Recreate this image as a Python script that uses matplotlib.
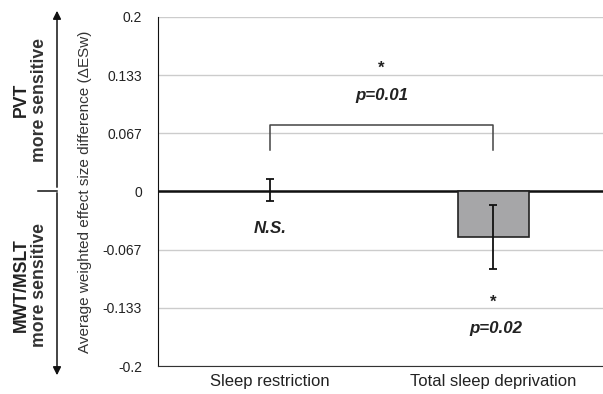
import matplotlib
matplotlib.use("Agg")
import matplotlib.pyplot as plt
from matplotlib.patches import FancyArrowPatch

plt.rcParams["font.family"] = ["Liberation Sans", "DejaVu Sans"]

categories = ["Sleep restriction", "Total sleep deprivation"]
values = [0.0017, -0.052]
errors = [0.013, 0.037]
bar_colors = ["#a6a6a8", "#a6a6a8"]
yticks = [-0.2, -0.133, -0.067, 0, 0.067, 0.133, 0.2]
ytick_labels = ["-0.2", "-0.133", "-0.067", "0", "0.067", "0.133", "0.2"]

fig = plt.figure(figsize=(6.03, 3.94), dpi=100)
ax = fig.add_axes([0.262, 0.071, 0.738, 0.886])

x = list(range(len(categories)))
# first bar is essentially zero, so only the second shows as a filled bar
ax.bar(x[1], values[1], width=0.32, color=bar_colors[1], edgecolor="#222222", linewidth=1.2, zorder=3)
ax.errorbar(x, values, yerr=errors, fmt="none", ecolor="#111111", elinewidth=1.3,
            capsize=3, capthick=1.3, zorder=4)

ax.axhline(0, color="#111111", linewidth=1.8, zorder=2)
ax.set_xlim(-0.5, 1.49)
ax.set_ylim(-0.2, 0.2)
ax.set_yticks(yticks)
ax.set_yticklabels(ytick_labels, fontsize=10, color="#222222")
ax.yaxis.grid(True, color="#cccccc", linewidth=1)
ax.set_axisbelow(True)
ax.tick_params(axis="y", length=0, pad=11.5)
ax.set_xticks(x)
ax.set_xticklabels(categories, fontsize=12, color="#222222")
ax.tick_params(axis="x", length=0, pad=6)
for side in ["top", "right"]:
    ax.spines[side].set_visible(False)
ax.spines["left"].set_color("#111111")
ax.spines["bottom"].set_color("#333333")
ax.set_ylabel("Average weighted effect size difference (ΔESw)", fontsize=11, color="#333333", labelpad=8)

# comparison bracket
ax.plot([x[0], x[0], x[1], x[1]], [0.048, 0.0757, 0.0757, 0.048], color="#444444", linewidth=1.1)
ax.text(0.5, 0.141, "*", ha="center", va="center", fontsize=12, fontweight="bold", color="#222222")
ax.text(0.5, 0.110, "p=0.01", ha="center", va="center", fontsize=12.2, fontweight="bold",
        style="italic", color="#222222")
ax.text(x[0], -0.042, "N.S.", ha="center", va="center", fontsize=12.2, fontweight="bold",
        style="italic", color="#222222")
ax.text(x[1], -0.127, "*", ha="center", va="center", fontsize=12, fontweight="bold", color="#222222")
ax.text(x[1] + 0.01, -0.157, "p=0.02", ha="center", va="center", fontsize=12.2, fontweight="bold",
        style="italic", color="#222222")

# side arrow and labels
for y_end in (8, 378):
    fig.add_artist(FancyArrowPatch((57 / 603, 1 - 190 / 394), (57 / 603, 1 - y_end / 394),
                                   transform=fig.transFigure, arrowstyle="-|>",
                                   mutation_scale=12, color="#111111", linewidth=1.1))
fig.add_artist(plt.Line2D([38 / 603, 57 / 603], [1 - 191 / 394, 1 - 191 / 394],
                          transform=fig.transFigure, color="#111111", linewidth=1.1))
fig.text(21 / 603, 1 - 100 / 394, "PVT", rotation=90, ha="center", va="center",
         fontsize=12.7, fontweight="bold", color="#222222")
fig.text(40 / 603, 1 - 100 / 394, "more sensitive", rotation=90, ha="center", va="center",
         fontsize=12.7, fontweight="bold", color="#333333")
fig.text(21 / 603, 1 - 285 / 394, "MWT/MSLT", rotation=90, ha="center", va="center",
         fontsize=12.7, fontweight="bold", color="#222222")
fig.text(40 / 603, 1 - 285 / 394, "more sensitive", rotation=90, ha="center", va="center",
         fontsize=12.7, fontweight="bold", color="#333333")

fig.savefig("out.png", dpi=100)
